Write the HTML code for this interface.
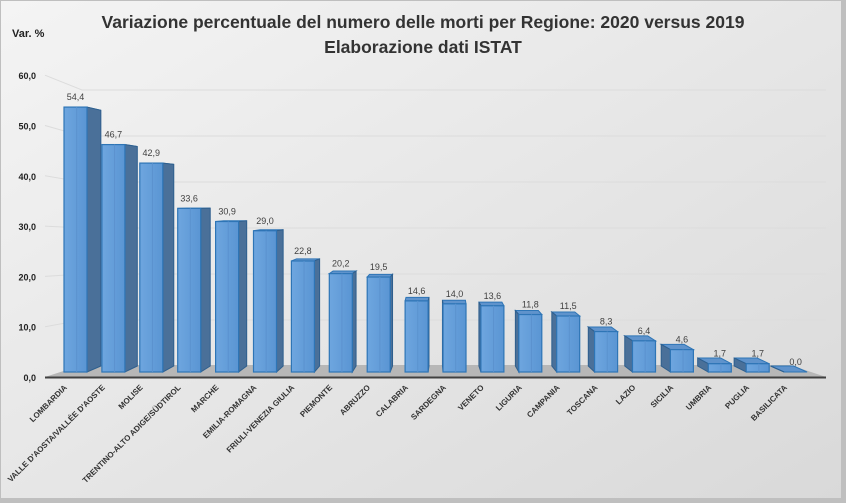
<!DOCTYPE html>
<html><head><meta charset="utf-8"><style>
html,body{margin:0;padding:0;background:#fff}
svg{display:block;font-family:"Liberation Sans",sans-serif}
</style></head><body>
<svg width="846" height="503" viewBox="0 0 846 503" xmlns="http://www.w3.org/2000/svg">
<defs>
<linearGradient id="bg" x1="0" y1="0" x2="1" y2="1">
<stop offset="0" stop-color="#f4f4f4"/><stop offset="1" stop-color="#d9d9d9"/></linearGradient>
<linearGradient id="fr" x1="0" y1="0" x2="1" y2="0">
<stop offset="0" stop-color="#6ea6df"/><stop offset="1" stop-color="#5a95d3"/></linearGradient>
</defs>
<rect x="0" y="0" width="846" height="503" fill="#bfbfbf"/>
<rect x="1" y="1" width="840" height="497" fill="url(#bg)"/>
<text x="423" y="28" text-anchor="middle" font-size="17.5" font-weight="bold" fill="#333">Variazione percentuale del numero delle morti per Regione: 2020 versus 2019</text>
<text x="423" y="53" text-anchor="middle" font-size="17.5" font-weight="bold" fill="#333">Elaborazione dati ISTAT</text>
<text x="12" y="37" font-size="11" font-weight="bold" fill="#222">Var. %</text>
<g id="grid"></g>
<g id="bars"></g>
</svg>
<script>
var ns="http://www.w3.org/2000/svg",svg=document.querySelector('svg');
function el(t,a,p,txt){var e=document.createElementNS(ns,t);for(var k in a)e.setAttribute(k,a[k]);if(txt!==undefined)e.textContent=txt;(p||svg).appendChild(e);return e;}
var grid=document.getElementById('grid'),bars=document.getElementById('bars');
for(var i=0;i<=6;i++){
 var v=i*10,yl=377-v*5.03,yb=366-v*4.6;
 if(i>0){el('polyline',{points:"45,"+yl+" 82,"+yb+" 826,"+yb,fill:"none",stroke:"#dcdcdc","stroke-width":1},grid);}
 el('text',{x:36,y:yl+4,"text-anchor":"end","font-size":9,"font-weight":"bold",fill:"#222"},grid,v.toFixed(1).replace('.',','));
}
el('polygon',{points:"45,377 82,365 790,365 826,377",fill:"#b7b7b7"},grid);
el('line',{x1:45,y1:377.5,x2:826,y2:377.5,stroke:"#404040","stroke-width":2},grid);
var d=[["LOMBARDIA",54.4],["VALLE D'AOSTA/VALLÉE D'AOSTE",46.7],["MOLISE",42.9],["TRENTINO-ALTO ADIGE/SÜDTIROL",33.6],["MARCHE",30.9],["EMILIA-ROMAGNA",29.0],["FRIULI-VENEZIA GIULIA",22.8],["PIEMONTE",20.2],["ABRUZZO",19.5],["CALABRIA",14.6],["SARDEGNA",14.0],["VENETO",13.6],["LIGURIA",11.8],["CAMPANIA",11.5],["TOSCANA",8.3],["LAZIO",6.4],["SICILIA",4.6],["UMBRIA",1.7],["PUGLIA",1.7],["BASILICATA",0.0]];
d.forEach(function(r,i){
 var x=64+37.9*i,w=23,c=x+w/2,s=(440-c)*0.038,v=r[1];
 var ft=372-v*4.87,fb=372,bt=366-v*4.7,bb=366;
 var g=el('g',{},bars);
 el('polygon',{points:[x,ft,x+w,ft,x+w+s,bt,x+s,bt].join(' '),fill:"#5f93cc",stroke:"#2e75b6","stroke-width":1},g);
 var sx=s>0?x+w:x;
 el('polygon',{points:[sx,ft,sx+s,bt,sx+s,bb,sx,fb].join(' '),fill:"#4a7099",stroke:"#2e5f8e","stroke-width":1},g);
 if(v>0){el('rect',{x:x,y:ft,width:w,height:fb-ft,fill:"url(#fr)",stroke:"#2e75b6","stroke-width":1.2},g);
 el('line',{x1:x+w*0.55,y1:ft,x2:x+w*0.55,y2:fb,stroke:"#5b92cf","stroke-width":1},g);}
 el('text',{x:c,y:ft-7,"text-anchor":"middle","font-size":9,fill:"#404040"},g,v.toFixed(1).replace('.',','));
 var lx=c-8,ly=388;
 el('text',{x:lx,y:ly,"text-anchor":"end","font-size":8,"font-weight":"bold",fill:"#333",transform:"rotate(-45 "+lx+" "+ly+")"},g,r[0]);
});
</script>
</body></html>
